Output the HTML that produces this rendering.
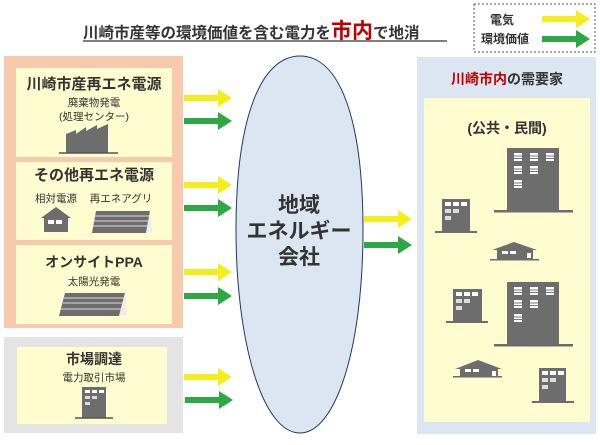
<!DOCTYPE html>
<html><head><meta charset="utf-8"><style>
html,body{margin:0;padding:0;background:#fff;width:600px;height:445px;overflow:hidden}
svg text{font-family:"Liberation Sans","Noto Sans CJK JP",sans-serif;font-weight:bold;fill:#333}
</style></head><body>
<svg width="600" height="445" viewBox="0 0 600 445" xmlns="http://www.w3.org/2000/svg">
<defs>
<g id="ya"><rect x="0" y="-3" width="36" height="6" fill="#f4ee1e"/><polygon points="34,-9 48,0 34,9" fill="#f4ee1e"/></g>
<g id="ga"><rect x="0" y="-3" width="36" height="6" fill="#2ea745"/><polygon points="34,-9 48,0 34,9" fill="#2ea745"/></g>
<g id="win"><rect width="8" height="8" fill="#fff"/><line x1="0" y1="3" x2="8" y2="3" stroke="#777" stroke-width="1"/><line x1="0" y1="5.5" x2="8" y2="5.5" stroke="#777" stroke-width="1"/></g>
<g id="sw"><rect width="6" height="4" fill="#fff"/></g>
</defs>
<!-- title -->
<text x="83" y="38" font-size="15.5">川崎市産等の環境価値を含む電力を<tspan fill="#c00000" font-size="21">市内</tspan>で地消</text>
<line x1="83" y1="41" x2="447" y2="41" stroke="#333" stroke-width="1.2"/>
<!-- legend -->
<rect x="474" y="4" width="121" height="48" fill="#fff" stroke="#555" stroke-dasharray="2,2"/>
<text x="490" y="24" font-size="12">電気</text>
<text x="481" y="43" font-size="12">環境価値</text>
<use href="#ya" x="542" y="19"/>
<use href="#ga" x="542" y="39"/>
<!-- left panel -->
<rect x="4" y="56" width="179" height="272" fill="#f7c9ad"/>
<rect x="16" y="68" width="156" height="89" fill="#fffcd0"/>
<rect x="16" y="162" width="156" height="78" fill="#fffcd0"/>
<rect x="16" y="245" width="156" height="79" fill="#fffcd0"/>
<text x="94" y="89" font-size="15" text-anchor="middle">川崎市産再エネ電源</text>
<text x="94" y="106" font-size="10.5" text-anchor="middle" font-weight="normal" style="font-weight:normal">廃棄物発電</text>
<text x="94" y="120" font-size="10.5" text-anchor="middle" style="font-weight:normal">(処理センター)</text>
<polygon points="66,153 66,134 76,130 76,134 86,127 86,131 97,125 97,129 108,124 108,153" fill="#6d6d6d"/>
<line x1="59" y1="153" x2="118" y2="153" stroke="#555" stroke-width="1.5"/>
<text x="94" y="180" font-size="15" text-anchor="middle">その他再エネ電源</text>
<text x="56" y="202" font-size="10.5" text-anchor="middle" style="font-weight:normal">相対電源</text>
<text x="121" y="202" font-size="10.5" text-anchor="middle" style="font-weight:normal">再エネアグリ</text>
<polygon points="41,218 56,207 71,218 68,218 68,232 44,232 44,218" fill="#6d6d6d"/>
<rect x="48" y="220" width="6" height="4" fill="#fff"/><rect x="56" y="220" width="6" height="4" fill="#fff"/>
<polygon points="96,211 150,211 146,233 92,233" fill="#6d6d6d"/>
<polygon points="150,211 152,232 146,233" fill="#eee"/>
<g stroke="#fff" stroke-width="0.8"><line x1="95" y1="216" x2="149" y2="216"/><line x1="94" y1="221" x2="148" y2="221"/><line x1="93" y1="226" x2="147" y2="226"/></g>
<text x="94" y="267" font-size="14" text-anchor="middle">オンサイトPPA</text>
<text x="94" y="285" font-size="10.5" text-anchor="middle" style="font-weight:normal">太陽光発電</text>
<polygon points="65,293 125,293 119,316 59,316" fill="#6d6d6d"/>
<polygon points="125,293 127,315 119,316" fill="#eee"/>
<g stroke="#fff" stroke-width="0.8"><line x1="64" y1="298" x2="124" y2="298"/><line x1="63" y1="303" x2="123" y2="303"/><line x1="61" y1="309" x2="121" y2="309"/></g>
<!-- market -->
<rect x="4" y="337" width="179" height="96" fill="#e4e4e4"/>
<rect x="17" y="347" width="150" height="77" fill="#fffcd0"/>
<text x="94" y="364" font-size="14" text-anchor="middle">市場調達</text>
<text x="94" y="381" font-size="10.5" text-anchor="middle" style="font-weight:normal">電力取引市場</text>
<rect x="82" y="387" width="24" height="31" fill="#6d6d6d"/>
<rect x="85" y="390" width="5" height="3" fill="#fff"/><rect x="92" y="390" width="5" height="3" fill="#fff"/><rect x="99" y="390" width="5" height="3" fill="#fff"/>
<rect x="85" y="396" width="5" height="3" fill="#ddd"/><rect x="92" y="396" width="5" height="3" fill="#ddd"/><rect x="85" y="402" width="5" height="3" fill="#ddd"/>
<line x1="75" y1="418" x2="113" y2="418" stroke="#555" stroke-width="1.5"/>
<!-- left arrows -->
<use href="#ya" x="184" y="98"/><use href="#ga" x="184" y="121"/>
<use href="#ya" x="184" y="185"/><use href="#ga" x="184" y="208"/>
<use href="#ya" x="184" y="272"/><use href="#ga" x="184" y="296"/>
<use href="#ya" x="184" y="377"/><use href="#ga" x="185" y="400"/>
<!-- ellipse -->
<path d="M300,56 C340,56 363,120 363,230 C363,350 335,433 300,433 C262,433 236,340 236,230 C236,115 262,56 300,56 Z" fill="#dce6f2" stroke="#1f3864" stroke-width="1"/>
<text x="299" y="212" font-size="21" text-anchor="middle">地域</text>
<text x="299" y="238" font-size="21" text-anchor="middle">エネルギー</text>
<text x="299" y="264" font-size="21" text-anchor="middle">会社</text>
<!-- right arrows -->
<use href="#ya" x="364" y="219"/><use href="#ga" x="364" y="245"/>
<!-- right panel -->
<rect x="417" y="57" width="179" height="377" fill="#dce6f2"/>
<rect x="424" y="98" width="166" height="324" fill="#fffcd0"/>
<text x="507" y="84" font-size="14" text-anchor="middle"><tspan fill="#c00000">川崎市内</tspan>の需要家</text>
<text x="507" y="133" font-size="14" text-anchor="middle">(公共・民間)</text>
<!-- buildings -->
<g fill="#6d6d6d">
<rect x="507" y="148" width="52" height="63"/><rect x="494" y="210" width="79" height="2.5"/>
<rect x="442" y="199" width="28" height="33"/><rect x="435" y="231" width="42" height="2"/>
<rect x="453" y="289" width="29" height="33"/><rect x="446" y="321" width="42" height="2"/>
<rect x="507" y="282" width="52" height="62"/><rect x="494" y="344" width="79" height="2.5"/>
<rect x="539" y="368" width="27" height="34"/><rect x="532" y="401" width="42" height="2"/>
<polygon points="492,250 514,242 537,250 533,250 533,260 497,260 497,250"/><rect x="490" y="259" width="49" height="1.5"/>
<polygon points="455,369 478,360 502,369 498,369 498,377 460,377 460,369"/><rect x="453" y="376" width="49" height="1.5"/>
</g>
<use href="#win" x="514" y="153"/><use href="#win" x="530" y="153"/><use href="#win" x="546" y="153"/>
<use href="#win" x="514" y="166"/><use href="#win" x="530" y="166"/><use href="#win" x="514" y="180"/>
<use href="#win" x="514" y="287"/><use href="#win" x="530" y="287"/><use href="#win" x="546" y="287"/>
<use href="#win" x="514" y="300"/><use href="#win" x="530" y="300"/><use href="#win" x="514" y="314"/>
<g fill="#fff"><rect x="445" y="202" width="6" height="4"/><rect x="453" y="202" width="6" height="4"/><rect x="461" y="202" width="6" height="4"/></g>
<g fill="#ddd"><rect x="445" y="209" width="6" height="4"/><rect x="453" y="209" width="6" height="4"/><rect x="445" y="216" width="6" height="4"/></g>
<g fill="#fff"><rect x="456" y="292" width="6" height="4"/><rect x="464" y="292" width="6" height="4"/><rect x="472" y="292" width="6" height="4"/></g>
<g fill="#ddd"><rect x="456" y="299" width="6" height="4"/><rect x="464" y="299" width="6" height="4"/><rect x="456" y="306" width="6" height="4"/></g>
<g fill="#fff"><rect x="542" y="371" width="6" height="4"/><rect x="550" y="371" width="6" height="4"/><rect x="558" y="371" width="6" height="4"/></g>
<g fill="#ddd"><rect x="542" y="378" width="6" height="4"/><rect x="550" y="378" width="6" height="4"/><rect x="542" y="385" width="6" height="4"/></g>
<g fill="#fff"><rect x="502" y="251" width="6" height="3"/><rect x="510" y="251" width="6" height="3"/><rect x="527" y="253" width="4" height="5"/>
<rect x="465" y="369" width="6" height="3"/><rect x="473" y="369" width="6" height="3"/><rect x="492" y="371" width="4" height="5"/></g>
</svg>
</body></html>
